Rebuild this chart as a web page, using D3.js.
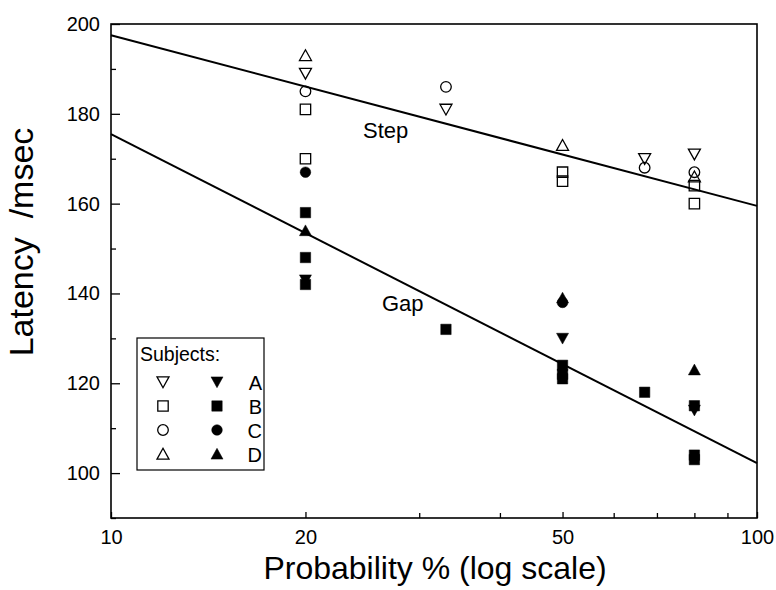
<!DOCTYPE html>
<html>
<head>
<meta charset="utf-8">
<script src="https://cdn.jsdelivr.net/npm/d3@7"></script>
<style>
  body { margin: 0; background: #fff; }
  svg text { font-family: "Liberation Sans", Arial, sans-serif; fill: #000; }
</style>
</head>
<body>
<div id="chart"></div>
<script>
// step condition (open symbols), [probability %, latency ms]
var stepA = [[20, 189], [33, 181], [67, 170], [80, 171]];
var stepB = [[20, 181], [20, 170], [50, 167], [50, 165], [80, 164], [80, 160]];
var stepC = [[20, 185], [33, 186], [67, 168], [80, 167]];
var stepD = [[20, 193], [50, 173], [80, 166]];

// gap condition (filled symbols)
var gapA = [[20, 143], [50, 130], [80, 114]];
var gapB = [[20, 158], [20, 148], [20, 142], [33, 132], [50, 124], [50, 122], [50, 121], [67, 118], [80, 115], [80, 104], [80, 103]];
var gapC = [[20, 167], [50, 138]];
var gapD = [[20, 154], [50, 139], [80, 123]];

// fitted lines, end points
var stepFit = [[10, 197.5], [100, 159.5]];
var gapFit = [[10, 175.5], [100, 102.2]];

var subjects = ["A", "B", "C", "D"];
var xTickVals = [10, 20, 50, 100];
var xMinorVals = [30, 40, 60, 70, 80, 90];
var yTickVals = [100, 120, 140, 160, 180, 200];
var yMinorVals = [90, 110, 130, 150, 170, 190];

const W = 776, H = 590;
const margin = {top: 24, right: 19, bottom: 72, left: 111};
const width = W - margin.left - margin.right,
      height = H - margin.top - margin.bottom;

var svg = d3.select("#chart")
    .append("svg")
    .attr("width", W)
    .attr("height", H);

var g = svg.append("g")
    .attr("transform", "translate(" + margin.left + "," + margin.top + ")");

var x = d3.scaleLog().domain([10, 100]).range([0, width]);
var y = d3.scaleLinear().domain([90, 200]).range([height, 0]);

// axes (ticks point inward)
var xAxis = g.append("g")
    .attr("transform", "translate(0," + height + ")")
    .call(d3.axisBottom(x).tickValues(xTickVals).tickFormat(d3.format("d"))
        .tickSizeInner(-6).tickSizeOuter(0).tickPadding(12));
xAxis.select(".domain").remove();
xAxis.selectAll("text").style("font-size", "20px");

var xMinor = g.append("g")
    .attr("transform", "translate(0," + height + ")")
    .call(d3.axisBottom(x).tickValues(xMinorVals).tickFormat("")
        .tickSizeInner(-5).tickSizeOuter(0));
xMinor.select(".domain").remove();
xMinor.selectAll("text").remove();

var yAxis = g.append("g")
    .call(d3.axisLeft(y).tickValues(yTickVals)
        .tickSizeInner(-9).tickSizeOuter(0).tickPadding(11));
yAxis.select(".domain").remove();
yAxis.selectAll("text").style("font-size", "20px");

var yMinor = g.append("g")
    .call(d3.axisLeft(y).tickValues(yMinorVals).tickFormat("")
        .tickSizeInner(-5).tickSizeOuter(0));
yMinor.select(".domain").remove();
yMinor.selectAll("text").remove();

svg.selectAll(".tick line").attr("stroke", "#000").attr("stroke-width", 1.3);

// frame
g.append("rect")
    .attr("width", width)
    .attr("height", height)
    .attr("fill", "none")
    .attr("stroke", "#000")
    .attr("stroke-width", 1.6);

// symbol paths
function triDown(s) {
    return "M" + (-s) + "," + (-s * 0.85) + "L" + s + "," + (-s * 0.85) + "L0," + (s * 0.95) + "Z";
}
function triUp(s) {
    return "M" + (-s) + "," + (s * 0.85) + "L" + s + "," + (s * 0.85) + "L0," + (-s * 0.95) + "Z";
}
function square(s) {
    return "M" + (-s) + "," + (-s) + "H" + s + "V" + s + "H" + (-s) + "Z";
}
function circle(s) {
    return "M" + s + ",0A" + s + "," + s + " 0 1,1 " + (-s) + ",0A" + s + "," + s + " 0 1,1 " + s + ",0Z";
}
var shapes = {
    A: function () { return triDown(6); },
    B: function () { return square(5.2); },
    C: function () { return circle(5.3); },
    D: function () { return triUp(6); }
};

function drawSeries(data, subj, filled) {
    g.selectAll(null)
        .data(data)
        .enter()
        .append("path")
        .attr("transform", function (d) { return "translate(" + x(d[0]) + "," + y(d[1]) + ")"; })
        .attr("d", shapes[subj])
        .attr("fill", filled ? "#000" : "none")
        .attr("stroke", "#000")
        .attr("stroke-width", filled ? 0.5 : 1.3);
}

drawSeries(stepA, "A", false);
drawSeries(stepB, "B", false);
drawSeries(stepC, "C", false);
drawSeries(stepD, "D", false);
drawSeries(gapA, "A", true);
drawSeries(gapB, "B", true);
drawSeries(gapC, "C", true);
drawSeries(gapD, "D", true);

// fitted lines
var line = d3.line()
    .x(function (d) { return x(d[0]); })
    .y(function (d) { return y(d[1]); });

[stepFit, gapFit].forEach(function (f) {
    g.append("path")
        .datum(f)
        .attr("d", line)
        .attr("fill", "none")
        .attr("stroke", "#000")
        .attr("stroke-width", 2);
});

// line labels
svg.append("text").attr("x", 363).attr("y", 138).style("font-size", "22px").text("Step");
svg.append("text").attr("x", 382).attr("y", 311).style("font-size", "22px").text("Gap");

// legend
var leg = svg.append("g").attr("transform", "translate(137,338)");
leg.append("rect")
    .attr("width", 127)
    .attr("height", 132)
    .attr("fill", "#fff")
    .attr("stroke", "#000")
    .attr("stroke-width", 1.2);
leg.append("text").attr("x", 3).attr("y", 23).style("font-size", "19.5px").text("Subjects:");

subjects.forEach(function (s, i) {
    var ry = 44 + i * 24;
    leg.append("path")
        .attr("transform", "translate(26," + ry + ")")
        .attr("d", shapes[s])
        .attr("fill", "none")
        .attr("stroke", "#000")
        .attr("stroke-width", 1.3);
    leg.append("path")
        .attr("transform", "translate(80," + ry + ")")
        .attr("d", shapes[s])
        .attr("fill", "#000")
        .attr("stroke", "#000")
        .attr("stroke-width", 0.5);
    leg.append("text")
        .attr("x", 125)
        .attr("y", ry + 7.5)
        .attr("text-anchor", "end")
        .style("font-size", "20px")
        .text(s);
});

// axis titles
svg.append("text")
    .attr("x", 435)
    .attr("y", 579)
    .attr("text-anchor", "middle")
    .style("font-size", "32px")
    .text("Probability % (log scale)");

svg.append("text")
    .attr("transform", "translate(33,242) rotate(-90)")
    .attr("text-anchor", "middle")
    .style("font-size", "34px")
    .style("white-space", "pre")
    .text("Latency  /msec");
</script>
</body>
</html>
